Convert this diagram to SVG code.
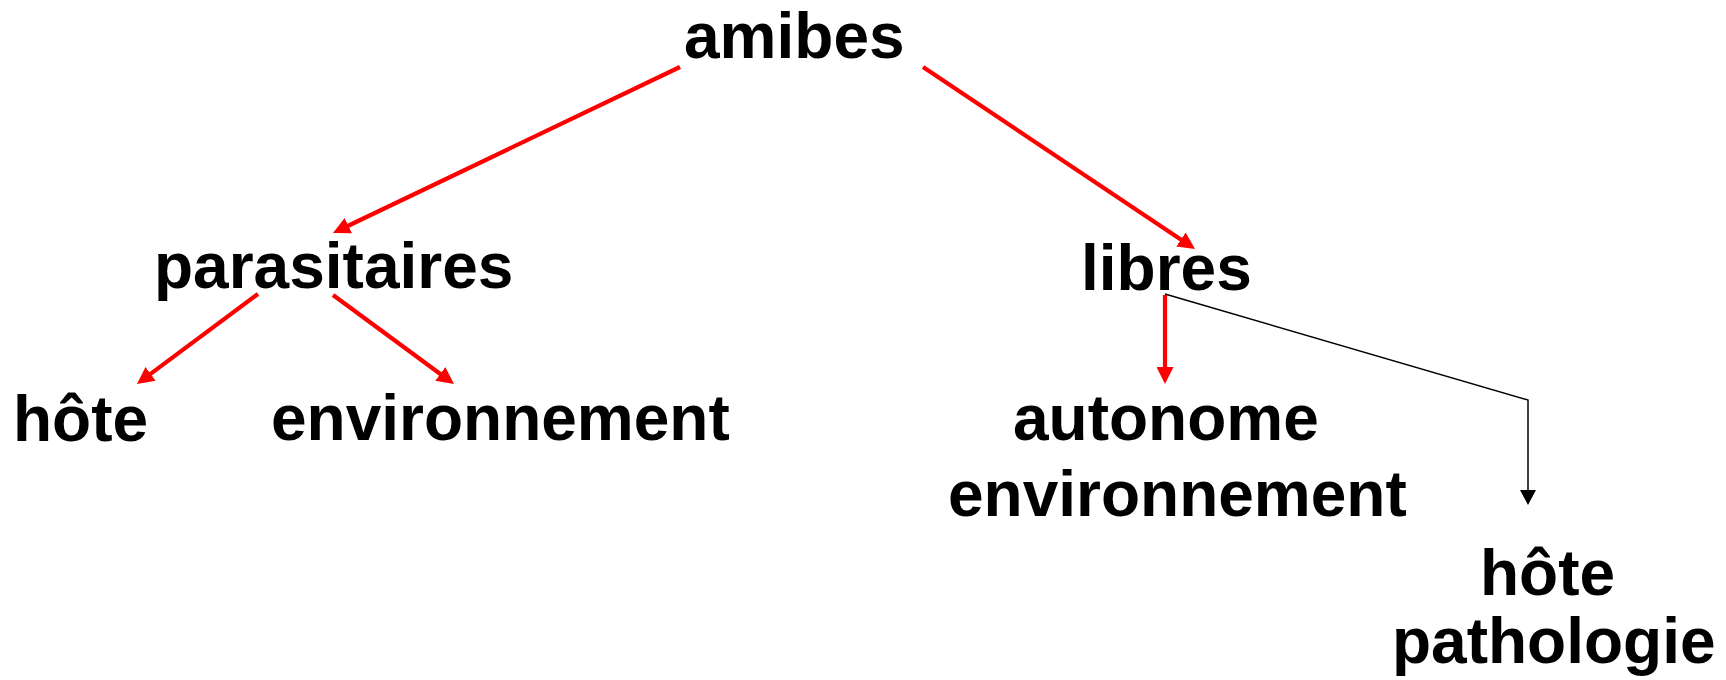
<svg xmlns="http://www.w3.org/2000/svg" width="1726" height="680" viewBox="0 0 1726 680">
<style>
.t{font-family:"Liberation Sans",Arial,sans-serif;font-weight:bold;font-size:64px;fill:#000}
.r{stroke:#ff0000;stroke-width:4.2;fill:none}
.k{stroke:#000;stroke-width:1.5;fill:none}
</style>
<defs>
<marker id="ar" markerUnits="userSpaceOnUse" markerWidth="17" markerHeight="17" viewBox="0 0 17 17" refX="3" refY="8.5" orient="auto"><path d="M0,0 L17,8.5 L0,17 z" fill="#ff0000"/></marker>
<marker id="ak" markerUnits="userSpaceOnUse" markerWidth="15" markerHeight="16" viewBox="0 0 15 16" refX="2" refY="8" orient="auto"><path d="M0,0 L15,8 L0,16 z" fill="#000"/></marker>
</defs>
<rect width="1726" height="680" fill="#fff"/>
<g id="connectors">
<line class="r" x1="680" y1="67" x2="345.6" y2="227" marker-end="url(#ar)"/>
<line class="r" x1="923" y1="67" x2="1183.4" y2="241.2" marker-end="url(#ar)"/>
<line class="r" x1="258" y1="294" x2="148.2" y2="375.6" marker-end="url(#ar)"/>
<line class="r" x1="333" y1="295" x2="442.7" y2="375.7" marker-end="url(#ar)"/>
<line class="r" x1="1165" y1="295" x2="1165" y2="370" marker-end="url(#ar)"/>
<polyline class="k" points="1165,294 1528,400 1528,492" marker-end="url(#ak)"/>
</g>
<g id="amibes"><text class="t" x="684" y="58">amibes</text></g>
<g id="parasitaires"><text class="t" x="154" y="288">parasitaires</text></g>
<g id="libres"><text class="t" x="1081" y="290">libres</text></g>
<g id="hote1"><text class="t" x="13" y="441">hôte</text></g>
<g id="environnement1"><text class="t" x="271" y="440">environnement</text></g>
<g id="autonome"><text class="t" x="1013" y="440">autonome</text><text class="t" x="948" y="516">environnement</text></g>
<g id="hote2"><text class="t" x="1480" y="595">hôte</text><text class="t" x="1392" y="663">pathologie</text></g>
</svg>
